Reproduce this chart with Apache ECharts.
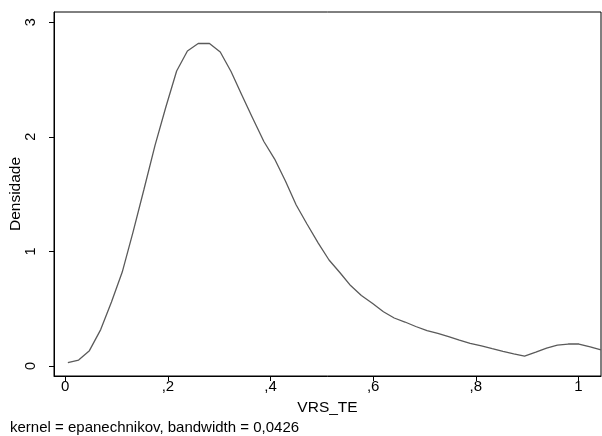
<!DOCTYPE html>
<html><head><meta charset="utf-8">
<script src="https://cdn.jsdelivr.net/npm/echarts@6/dist/echarts.min.js"></script>
<style>html,body{margin:0;padding:0;background:#fff}#c{width:602px;height:436px}</style>
</head><body><div id="c"></div>
<script>
const xValues = [0.005, 0.026, 0.047, 0.069, 0.090, 0.111, 0.132, 0.153, 0.175, 0.196,
  0.217, 0.238, 0.259, 0.281, 0.302, 0.323, 0.344, 0.365, 0.387, 0.408,
  0.429, 0.450, 0.471, 0.493, 0.514, 0.535, 0.556, 0.577, 0.599, 0.620,
  0.641, 0.662, 0.683, 0.705, 0.726, 0.747, 0.768, 0.789, 0.811, 0.832,
  0.853, 0.874, 0.895, 0.917, 0.938, 0.959, 0.980, 1.001, 1.023, 1.044];
const density = [0.029, 0.052, 0.134, 0.318, 0.558, 0.820, 1.169, 1.536, 1.928, 2.260,
  2.574, 2.749, 2.814, 2.814, 2.740, 2.570, 2.365, 2.164, 1.959, 1.806,
  1.614, 1.405, 1.239, 1.073, 0.925, 0.816, 0.702, 0.615, 0.545, 0.474,
  0.419, 0.384, 0.345, 0.308, 0.285, 0.257, 0.227, 0.198, 0.175, 0.151,
  0.128, 0.107, 0.087, 0.122, 0.157, 0.183, 0.192, 0.192, 0.168, 0.140];
const xTicks = [0, 0.2, 0.4, 0.6, 0.8, 1];
const yTicks = [0, 1, 2, 3];
const xTitle = 'VRS_TE';
const yTitle = 'Densidade';
const noteText = 'kernel = epanechnikov, bandwidth = 0,0426';

const fmtX = v => {
  const r = Math.round(v * 10) / 10;
  if (r === 0) return '0';
  if (r === 1) return '1';
  return ',' + Math.round(r * 10);
};
const font = 'Liberation Sans, Arial, sans-serif';
const chart = echarts.init(document.getElementById('c'), null, {renderer: 'canvas'});
chart.setOption({
  backgroundColor: '#fff',
  animation: false,
  grid: {left: 54, right: 1, top: 12, bottom: 60, containLabel: false, outerBoundsMode: 'none',
    show: true, borderColor: '#000', borderWidth: 1, backgroundColor: '#fff'},
  xAxis: {
    type: 'value', min: -0.022, max: 1.044,
    splitLine: {show: false},
    axisLine: {show: true, onZero: false, lineStyle: {color: '#000', width: 1}},
    axisTick: {show: true, length: 5, customValues: xTicks, lineStyle: {color: '#000'}},
    axisLabel: {customValues: xTicks, formatter: fmtX, color: '#000', fontSize: 15, fontFamily: font, margin: 3},
    name: xTitle, nameLocation: 'middle', nameGap: 24, nameMoveOverlap: false,
    nameTextStyle: {color: '#000', fontSize: 15.5, fontFamily: font}
  },
  yAxis: {
    type: 'value', min: -0.087, max: 3.089,
    splitLine: {show: false},
    axisLine: {show: true, onZero: false, lineStyle: {color: '#000', width: 1}},
    axisTick: {show: true, length: 5, customValues: yTicks, lineStyle: {color: '#000'}},
    axisLabel: {customValues: yTicks, rotate: 90, color: '#000', fontSize: 14.5, fontFamily: font, margin: 16},
    name: yTitle, nameLocation: 'middle', nameGap: 30, nameMoveOverlap: false,
    nameTextStyle: {color: '#000', fontSize: 15.5, fontFamily: font}
  },
  graphic: [{
    type: 'text', left: 10, top: 420,
    style: {text: noteText, fill: '#000', font: '15px ' + font}
  }],
  series: [{
    type: 'line',
    data: xValues.map((x, i) => [x, density[i]]),
    showSymbol: false, symbol: 'none',
    lineStyle: {color: '#5a5a5a', width: 1.3},
    clip: true
  }]
});
</script></body></html>
